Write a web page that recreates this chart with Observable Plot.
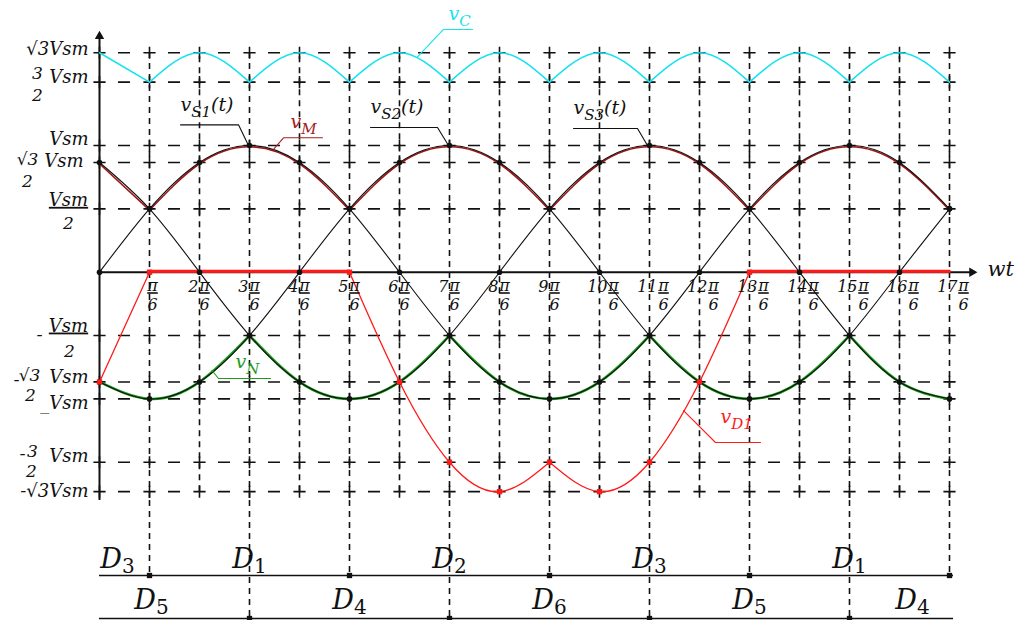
<!DOCTYPE html>
<html>
<head>
<meta charset="utf-8">
<script src="https://cdn.jsdelivr.net/npm/d3@7"></script>
<script src="https://cdn.jsdelivr.net/npm/@observablehq/plot@0.6"></script>
<style>
  html, body { margin: 0; padding: 0; background: #ffffff; overflow: hidden; }
  #chart svg { display: block; }
  g[aria-description="ul"] text { text-decoration: underline; text-decoration-thickness: 1.4px; }
</style>
</head>
<body>
<div id="chart"></div>
<script>
// ---------------- data (unit = Vsm, x unit = pi/6) ----------------
const xs  = [0, 1, 2, 3, 4, 5, 6, 7, 8, 9, 10, 11, 12, 13, 14, 15, 16, 17];
const vS1 = [0, 0.5, 0.866, 1, 0.866, 0.5, 0, -0.5, -0.866, -1, -0.866, -0.5, 0, 0.5, 0.866, 1, 0.866, 0.5];
const vS2 = [-0.866, -1, -0.866, -0.5, 0, 0.5, 0.866, 1, 0.866, 0.5, 0, -0.5, -0.866, -1, -0.866, -0.5, 0, 0.5];
const vS3 = [0.866, 0.5, 0, -0.5, -0.866, -1, -0.866, -0.5, 0, 0.5, 0.866, 1, 0.866, 0.5, 0, -0.5, -0.866, -1];
const vM  = [0.866, 0.5, 0.866, 1, 0.866, 0.5, 0.866, 1, 0.866, 0.5, 0.866, 1, 0.866, 0.5, 0.866, 1, 0.866, 0.5];
const vN  = [-0.866, -1, -0.866, -0.5, -0.866, -1, -0.866, -0.5, -0.866, -1, -0.866, -0.5, -0.866, -1, -0.866, -0.5, -0.866, -1];
const vC  = [1.732, 1.5, 1.732, 1.5, 1.732, 1.5, 1.732, 1.5, 1.732, 1.5, 1.732, 1.5, 1.732, 1.5, 1.732, 1.5, 1.732, 1.5];
const vD1 = [-0.866, 0, 0, 0, 0, 0, -0.866, -1.5, -1.732, -1.5, -1.732, -1.5, -0.866, 0, 0, 0, 0, 0];

// commutation instants (x units) and conducting diodes
const upperSwitch = [1, 5, 9, 13, 17];
const lowerSwitch = [3, 7, 11, 15];
const upperDiodes = ["D_{3}", "D_{1}", "D_{2}", "D_{3}", "D_{1}"];
const upperDiodeX = [0.36, 3, 7, 11, 15];
const lowerDiodes = ["D_{5}", "D_{4}", "D_{6}", "D_{5}", "D_{4}"];
const lowerDiodeX = [1.04, 5, 9, 13, 16.26];

// tick labels
const xTickLabels = ["π/6", "2π/6", "3π/6", "4π/6", "5π/6", "6π/6", "7π/6", "8π/6", "9π/6", "10π/6",
                     "11π/6", "12π/6", "13π/6", "14π/6", "15π/6", "16π/6", "17π/6"];
const yTickValues = [1.732, 1.5, 1, 0.866, 0.5, -0.5, -0.866, -1, -1.5, -1.732];
const yTickMain = ["√3Vsm", "Vsm", "Vsm", "Vsm", "", "", "Vsm", "_Vsm", "Vsm", "-√3Vsm"];
const yTickNum  = ["", "3", "", "√3", "Vsm", "Vsm", "√3", "", "3", ""];
const yTickDen  = ["", "2", "", "2", "2", "2", "2", "", "2", ""];
const yTickSign = ["", "", "", "", "", "-", "-", "", "-", ""];

// annotations (curve point, underline, text anchor)
const annLabels  = ["v_{C}", "v_{S1}(t)", "v_{M}", "v_{S2}(t)", "v_{S3}(t)", "v_{N}", "v_{D1}"];
const annTargetX = [6.36, 2.98, 3.48, 6.98, 10.96, 2.25, 11.68];
const annTargetY = [1.70, 1.0, 0.969, 1.0, 1.0, -0.776, -1.092];
const annElbowX  = [6.88, 2.78, 3.68, 6.76, 10.76, 2.38, 12.32];
const annLineY   = [1.916, 1.163, 1.061, 1.142, 1.134, -0.839, -1.344];
const annEndX    = [7.46, 1.62, 4.46, 5.42, 9.48, 3.42, 13.22];
const annTextX   = [6.98, 1.62, 3.82, 5.42, 9.48, 2.72, 12.42];
const annTextY   = [1.987, 1.276, 1.142, 1.253, 1.245, -0.760, -1.194];

// ---------------- styles / layout ----------------
const CYAN = "#14e2ef", DARKRED = "#a31515", GREEN = "#1c9a1c", RED = "#ff1a1a", INK = "#111111";
const annColors = [CYAN, INK, "#a52020", INK, INK, "#1e9a1e", RED];
const serif = "DejaVu Serif";
// pixel offsets [dx, dy] of the y-label pieces relative to (axis, tick level)
const yMainPos = [[-11, 2], [-11, 1], [-11, 0], [-16, 5], null, null, [-11, 1], [-11, 10], [-11, 0], [-11, 5]];
const yNumPos  = [null, [-62, -3], null, [-72, 3], [-31, -3], [-31, -4], [-70, -1], null, [-67, -5], null];
const yDenPos  = [null, [-62, 19], null, [-72, 25], [-31, 20], [-30, 21], [-69, 19], null, [-68, 15], null];
const ySignPos = [null, null, null, null, null, [-60, 5], [-83, 4], null, [-77, -2], null];
const rowPx = [75, 118];   // pixel rows of the diode strip

// ---------------- helpers ----------------
const yMin = d3.min(yTickValues), yMax = d3.max(yTickValues), xMax = d3.max(xs);

function segments(values, breaks) {
  const out = []; let seg = 0;
  xs.forEach((x, i) => {
    out.push({x, y: values[i], seg});
    if (breaks.includes(x) && i > 0 && i < xs.length - 1) { seg += 1; out.push({x, y: values[i], seg}); }
  });
  return out;
}

const phasePts = [["vS1", vS1], ["vS2", vS2], ["vS3", vS3]]
  .flatMap(([phase, vals]) => xs.map((x, i) => ({x, y: vals[i], phase})));
const gridPts = xs.flatMap(x => yTickValues.map(y => ({x, y})));
const allSwitch = [...upperSwitch, ...lowerSwitch].sort((a, b) => a - b);
const vMSeg = segments(vM, upperSwitch);
const vNSeg = segments(vN, lowerSwitch);
const vCSeg = segments(vC, allSwitch);
const vDSeg = segments(vD1, upperSwitch);
const flatSegIds = new Set(d3.groups(vDSeg, d => d.seg).filter(([, g]) => g.every(p => p.y === 0)).map(([s]) => s));
const vDFlat = vDSeg.filter(p => flatSegIds.has(p.seg));
const vDDots = xs.map((x, i) => ({x, y: vD1[i]}))
  .filter((p, i) => p.y !== 0 || (i > 0 && vD1[i - 1] !== 0) || (i < xs.length - 1 && vD1[i + 1] !== 0));
const annPts = annLabels.flatMap((_, i) => [
  {i, x: annTargetX[i], y: annTargetY[i]},
  {i, x: annElbowX[i], y: annLineY[i]},
  {i, x: annEndX[i], y: annLineY[i]}
]);

// y tick labels
const yLabelMarks = [];
yTickValues.forEach((v, i) => {
  const base = {x: 0, y: v, text: d => d, fontFamily: serif, fontStyle: "italic", lineAnchor: "bottom", fill: INK};
  if (yTickMain[i]) yLabelMarks.push(Plot.text([yTickMain[i]], {...base, textAnchor: "end", fontSize: 18, dx: yMainPos[i][0], dy: yMainPos[i][1]}));
  if (yTickNum[i]) yLabelMarks.push(Plot.text([yTickNum[i]], {...base, textAnchor: "middle", fontSize: yTickNum[i] === "Vsm" ? 18 : 17,
    dx: yNumPos[i][0], dy: yNumPos[i][1], ariaDescription: yTickNum[i] === "Vsm" ? "ul" : "num"}));
  if (yTickDen[i]) yLabelMarks.push(Plot.text([yTickDen[i]], {...base, textAnchor: "middle", fontSize: 17, dx: yDenPos[i][0], dy: yDenPos[i][1]}));
  if (yTickSign[i]) yLabelMarks.push(Plot.text([yTickSign[i]], {...base, textAnchor: "middle", fontSize: 18, dx: ySignPos[i][0], dy: ySignPos[i][1]}));
});

// x tick labels  k π / 6
const xLabelMarks = [];
xTickLabels.forEach((lab, j) => {
  const k = xs[j + 1];
  const [numer, den] = lab.split("/");
  const mult = numer.replace("π", "");
  const off = mult === "" ? 3 : mult.length === 1 ? 5 : 14;
  const base = {x: k, y: 0, text: d => d, fontFamily: serif, fontStyle: "italic", fontSize: 16, lineAnchor: "bottom", fill: INK};
  if (mult) xLabelMarks.push(Plot.text([mult], {...base, textAnchor: "end", dx: off - 6, dy: 20}));
  xLabelMarks.push(Plot.text(["π"], {...base, textAnchor: "middle", dx: off, dy: 19, ariaDescription: "ul"}));
  xLabelMarks.push(Plot.text([den], {...base, textAnchor: "middle", dx: off, dy: 38}));
});

// ---------------- main chart ----------------
const topChart = Plot.plot({
  width: 1021, height: 500,
  marginTop: 52, marginBottom: 0, marginLeft: 99, marginRight: 72,
  x: {domain: [0, xMax], range: [99, 949], axis: null},
  y: {domain: [yMin, yMax], range: [491.15, 52.25], axis: null},
  color: {type: "identity"},
  marks: [
    // dashed grid
    Plot.ruleY(yTickValues, {x1: 0, x2: xMax, stroke: INK, strokeWidth: 1.6, strokeDasharray: "12,38", strokeDashoffset: 31}),
    Plot.ruleX(xs.filter(x => x > 0 && !allSwitch.includes(x)), {y1: yMin, y2: yMax, stroke: INK, strokeWidth: 1.6, strokeDasharray: "6,5"}),
    Plot.ruleX(allSwitch, {stroke: INK, strokeWidth: 1.6, strokeDasharray: "6,5"}),
    Plot.dot(gridPts, {x: "x", y: "y", symbol: "plus", r: 4, stroke: INK, strokeWidth: 1.6}),
    // axes
    Plot.ruleY([0], {x1: 0, x2: xMax + 0.5, stroke: INK, strokeWidth: 2}),
    Plot.ruleX([0], {y1: yMin - 0.08, y2: yMax + 0.15, stroke: INK, strokeWidth: 2}),
    Plot.dot([0], {x: 0, y: yMax + 0.13, symbol: "triangle", r: 3.5, fill: INK}),
    Plot.dot([0], {x: xMax + 0.45, y: 0, symbol: "triangle", rotate: 90, r: 3.5, fill: INK}),
    // curves
    Plot.line(vCSeg, {x: "x", y: "y", z: "seg", curve: "natural", stroke: CYAN, strokeWidth: 1.6}),
    Plot.line(vNSeg, {x: "x", y: "y", z: "seg", curve: "natural", stroke: GREEN, strokeWidth: 2.6}),
    Plot.line(vMSeg, {x: "x", y: "y", z: "seg", curve: "natural", stroke: DARKRED, strokeWidth: 1.6, dy: 1.3}),
    Plot.line(phasePts, {x: "x", y: "y", z: "phase", curve: "natural", stroke: INK, strokeWidth: 1.1}),
    Plot.line(vDSeg, {x: "x", y: "y", z: "seg", curve: "natural", stroke: RED, strokeWidth: 1.3}),
    Plot.line(vDFlat, {x: "x", y: "y", z: "seg", stroke: RED, strokeWidth: 3, dy: -1}),
    Plot.dot(phasePts, {x: "x", y: "y", r: 2.8, fill: INK}),
    Plot.dot(vDDots, {x: "x", y: "y", symbol: "square", r: 3, fill: RED}),
    // annotations
    Plot.line(annPts, {x: "x", y: "y", z: "i", stroke: d => annColors[d.i], strokeWidth: 1.1}),
    Plot.text(annLabels, {x: (d, i) => annTextX[i], y: (d, i) => annTextY[i], text: d => d, fill: (d, i) => annColors[i],
      textAnchor: "start", lineAnchor: "bottom", fontSize: 19, fontStyle: "italic", fontFamily: serif, ariaDescription: "rich|15|6|italic"}),
    Plot.text(["wt"], {x: xMax + 0.5, y: 0, text: d => d, dx: 13, dy: 4, textAnchor: "start", lineAnchor: "bottom",
      fontSize: 21, fontStyle: "italic", fontFamily: serif, fill: INK}),
    ...yLabelMarks,
    ...xLabelMarks
  ]
});

// ---------------- diode conduction rows ----------------
const bottomChart = Plot.plot({
  width: 1021, height: 120, marginTop: 0, marginBottom: 120 - rowPx[1], marginLeft: 99, marginRight: 72,
  x: {domain: [0, xMax], range: [99, 949], axis: null},
  y: {domain: [1, 2], range: rowPx, axis: null},
  marks: [
    Plot.ruleX(upperSwitch, {stroke: INK, strokeWidth: 1.6, strokeDasharray: "6,5", insetBottom: rowPx[1] - rowPx[0]}),
    Plot.ruleX(lowerSwitch, {stroke: INK, strokeWidth: 1.6, strokeDasharray: "6,5"}),
    Plot.ruleY([1, 2], {x1: 0, x2: xMax + 0.08, stroke: INK, strokeWidth: 1.6}),
    Plot.dot(upperSwitch, {x: d => d, y: 1, symbol: "square", r: 3, fill: INK}),
    Plot.dot(lowerSwitch, {x: d => d, y: 2, symbol: "square", r: 3, fill: INK}),
    Plot.text(upperDiodes, {x: (d, i) => upperDiodeX[i], y: 1, text: d => d, dy: -8, lineAnchor: "bottom", textAnchor: "middle",
      fontSize: 27, fontStyle: "italic", fontFamily: serif, fill: INK, ariaDescription: "rich|20|5|normal"}),
    Plot.text(lowerDiodes, {x: (d, i) => lowerDiodeX[i], y: 2, text: d => d, dy: -10, lineAnchor: "bottom", textAnchor: "middle",
      fontSize: 27, fontStyle: "italic", fontFamily: serif, fill: INK, ariaDescription: "rich|20|5|normal"})
  ]
});

// subscripts: turn "a_{b}c" into tspans
function enrich(svg) {
  const ns = "http://www.w3.org/2000/svg";
  svg.querySelectorAll("g[aria-description^='rich']").forEach(g => {
    const [, size, shift, style] = g.getAttribute("aria-description").split("|");
    g.querySelectorAll("text").forEach(t => {
      const m = t.textContent.match(/^(.*?)_\{(.*?)\}(.*)$/);
      if (!m) return;
      t.textContent = "";
      const add = (txt, attrs) => {
        const ts = document.createElementNS(ns, "tspan");
        ts.textContent = txt;
        for (const k in attrs) ts.setAttribute(k, attrs[k]);
        t.appendChild(ts);
      };
      add(m[1], {});
      add(m[2], {"font-size": size, dy: shift, "font-style": style});
      if (m[3]) add(m[3], {dy: -shift});
    });
  });
}
enrich(topChart);
enrich(bottomChart);
const host = document.getElementById("chart");
host.appendChild(topChart);
host.appendChild(bottomChart);
</script>
</body>
</html>
